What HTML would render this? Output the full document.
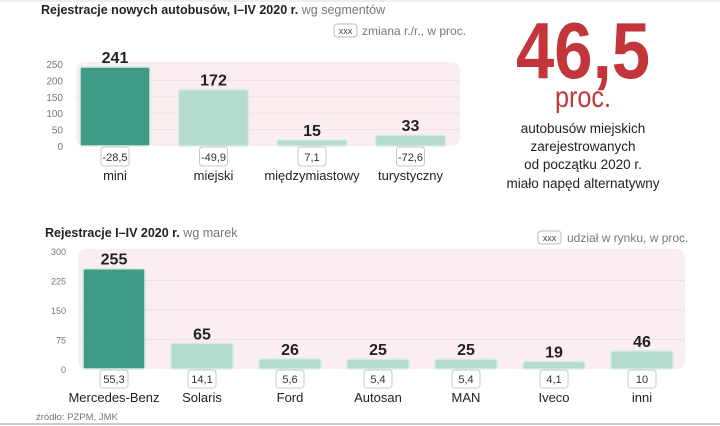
<!DOCTYPE html>
<html><head><meta charset="utf-8"><style>
body{margin:0;background:#fff;width:720px;height:426px;overflow:hidden;font-family:"Liberation Sans",sans-serif}
svg{display:block}
</style></head><body>
<svg id="c" width="720" height="426" viewBox="0 0 720 426">
<line x1="0" y1="1" x2="720" y2="1" stroke="#ddd"/>
<line x1="0" y1="424" x2="720" y2="424" stroke="#ccc" stroke-width="2"/>
<text x="41" y="14" font-size="12.5" fill="#222"><tspan font-weight="bold">Rejestracje nowych autobusów, I–IV 2020 r.</tspan><tspan fill="#777"> wg segmentów</tspan></text>
<rect x="334" y="24" width="23" height="13" rx="3" fill="#fff" stroke="#bbb"/>
<text x="345.5" y="34" font-size="9" text-anchor="middle" fill="#444">xxx</text>
<text x="362" y="35" font-size="12" fill="#777">zmiana r./r., w proc.</text>
<text x="36" y="420" font-size="9.5" fill="#777">źródło: PZPM, JMK</text>
<text x="45" y="237" font-size="12.5" fill="#222"><tspan font-weight="bold">Rejestracje I–IV 2020 r.</tspan><tspan fill="#777"> wg marek</tspan></text>
<rect x="538" y="231" width="23" height="13" rx="3" fill="#fff" stroke="#bbb"/>
<text x="549.5" y="241" font-size="9" text-anchor="middle" fill="#444">xxx</text>
<text x="567" y="242" font-size="12" fill="#777">udział w rynku, w proc.</text>
<text x="583" y="78" font-size="80" font-weight="bold" text-anchor="middle" fill="#c1353b" textLength="134" lengthAdjust="spacingAndGlyphs">46,5</text>
<text x="583" y="107" font-size="30" text-anchor="middle" fill="#c1353b" textLength="56" lengthAdjust="spacingAndGlyphs">proc.</text>
<g font-size="13.5" fill="#222" text-anchor="middle">
<text x="583" y="133">autobusów miejskich</text>
<text x="583" y="151">zarejestrowanych</text>
<text x="583" y="169">od początku 2020 r.</text>
<text x="583" y="188">miało napęd alternatywny</text>
</g>
<g id="top"></g><g id="bot"></g>
</svg>
<script>
const segCats=["mini","miejski","międzymiastowy","turystyczny"];
const segVals=[241,172,15,33];
const segChange=["-28,5","-49,9","7,1","-72,6"];
const segTicks=[0,50,100,150,200,250];
const brandCats=["Mercedes-Benz","Solaris","Ford","Autosan","MAN","Iveco","inni"];
const brandVals=[255,65,26,25,25,19,46];
const brandShare=["55,3","14,1","5,6","5,4","5,4","4,1","10"];
const brandTicks=[0,75,150,225,300];
const NS="http://www.w3.org/2000/svg";
function mk(p,t,a,txt){const e=document.createElementNS(NS,t);for(const k in a)e.setAttribute(k,a[k]);if(txt!=null)e.textContent=txt;p.appendChild(e);return e;}
function chart(g,o){
 const y=v=>o.y0-(v/o.max)*(o.y0-o.yTop);
 const bg=mk(g,'rect',{x:o.bgX,y:y(o.max)-2,width:o.bgW,height:o.y0-y(o.max)+2,rx:8,fill:'#fbeef0'});
 
 
 o.ticks.forEach(t=>{
  if(t>0&&t<o.max){const l=mk(g,'line',{x1:o.bgX,x2:o.bgX+o.bgW,y1:y(t),y2:y(t),stroke:'#f3dfe2'});
  
  }
  const tx=mk(g,'text',{x:o.tickX,y:y(t)+4,'font-size':o.tickFs,'text-anchor':'end',fill:'#777'},t);
  
  
 });
 o.cats.forEach((c,i)=>{
  const x=o.x0+i*o.step, cx=x+o.bw/2, h=Math.max(o.y0-y(o.vals[i]),6), top=o.y0-h;
  const b=mk(g,'rect',{x:x,y:top,width:o.bw,height:h,rx:2,fill:i===0?'#3f9b86':'#b4dccd',stroke:'#d8ebe4','stroke-width':1.5});
  
  
  const v=mk(g,'text',{x:cx,y:top-4,'font-size':o.valFs,'font-weight':'bold','text-anchor':'middle',fill:'#222'},o.vals[i]);
  
  
  const bw=o.boxW;
  const bx=mk(g,'rect',{x:cx-bw/2,y:o.y0+1,width:bw,height:o.boxH,rx:3,fill:'#fff',stroke:'#c8c8c8'});
  
  
  const at=mk(g,'text',{x:cx,y:o.y0+o.boxH-4,'font-size':11,'text-anchor':'middle',fill:'#333'},o.ann[i]);
  
  
  const cl=mk(g,'text',{x:cx,y:o.catY,'font-size':13,'text-anchor':'middle',fill:'#222'},c);
  
  
 });
}
chart(document.getElementById('top'),{id:'segment',cats:segCats,vals:segVals,ann:segChange,ticks:segTicks,max:250,y0:146,yTop:64,x0:80,step:98.5,bw:70,bgX:76,bgW:384,tickX:63,tickFs:10,valFs:16,boxW:28,boxH:19,catY:180});
chart(document.getElementById('bot'),{id:'brand',cats:brandCats,vals:brandVals,ann:brandShare,ticks:brandTicks,max:300,y0:369,yTop:251,x0:83,step:88,bw:62,bgX:78,bgW:607,tickX:66,tickFs:9,valFs:16,boxW:28,boxH:18,catY:402});
</script>
</body></html>
